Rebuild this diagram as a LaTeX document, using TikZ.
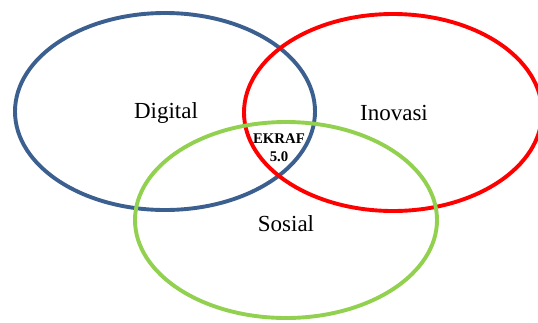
\documentclass[tikz,border=0pt]{standalone}
\usepackage{fontspec}
\setmainfont{Liberation Serif}
\definecolor{digiblue}{HTML}{3B5F8E}
\definecolor{inored}{HTML}{FF0000}
\definecolor{sosgreen}{HTML}{92D050}
\begin{document}
\begin{tikzpicture}[x=1pt,y=-1pt,
  ring/.style={line width=3.9pt},
  label/.style={font=\fontsize{23}{25}\selectfont, inner sep=0pt},
  core/.style={font=\bfseries\fontsize{14.8}{18.5}\selectfont, align=center, inner sep=0pt}]
  \useasboundingbox (0,0) rectangle (538,322);
  % the three overlapping areas
  \draw[ring, digiblue] (165,111.5) ellipse [x radius=150pt, y radius=98.5pt];
  \draw[ring, inored]   (393,112.5) ellipse [x radius=149pt, y radius=98.5pt];
  \draw[ring, sosgreen] (286,220)   ellipse [x radius=151pt, y radius=98pt];
  % labels
  \node[label] (digital) at (166,113) {Digital};
  \node[label] (inovasi) at (394,113) {Inovasi};
  \node[label] (sosial)  at (286,224) {Sosial};
  \node[core]  (ekraf)   at (279,147.5) {EKRAF\\5.0};
\end{tikzpicture}
\end{document}
